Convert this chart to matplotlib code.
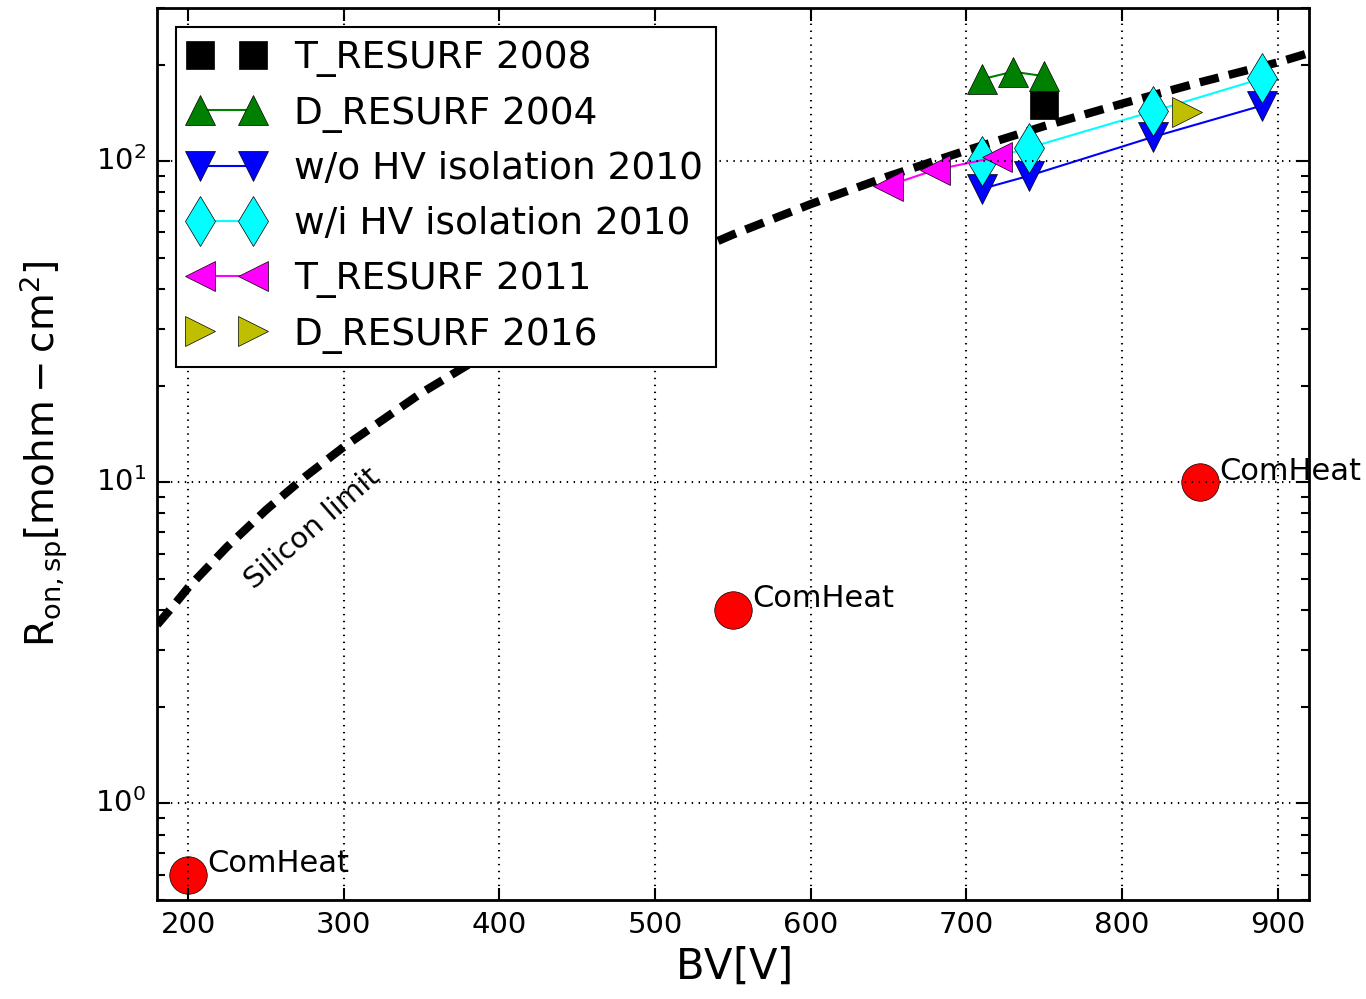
import matplotlib
matplotlib.use("Agg")
import matplotlib.pyplot as plt

plt.style.use('classic')
plt.rcParams['mathtext.fontset'] = 'dejavusans'
plt.rcParams['font.family'] = 'DejaVu Sans'

# silicon limit
si_bv = [180, 190, 200, 225, 250, 275, 300, 350, 400, 450, 500, 550,
         600, 650, 700, 750, 800, 850, 900, 920]
si_ron = [3.6, 4.1, 4.7, 6.3, 8.2, 10.4, 12.9, 19.0, 26.6, 35.7, 46.5, 59.1,
          73.5, 89.8, 108, 128.6, 151, 176, 203, 217]

# published devices
t2008_bv = [750]
t2008_ron = [150]
d2004_bv = [710, 730, 750]
d2004_ron = [180, 190, 184]
wo_bv = [710, 740, 820, 890]
wo_ron = [82, 90, 119, 149]
wi_bv = [710, 740, 820, 890]
wi_ron = [100, 110, 143, 181]
t2011_bv = [650, 680, 720]
t2011_ron = [84, 94, 103]
d2016_bv = [842]
d2016_ron = [142]

# ComHeat points
com_bv = [200, 550, 850]
com_ron = [0.6, 4.0, 10.0]

fig = plt.figure(figsize=(13.66, 9.99), dpi=100, facecolor='white')
ax = fig.add_axes([0.115, 0.099, 0.843, 0.893])

ax.plot(si_bv, si_ron, color='black', lw=6, dashes=(14, 7.5))

ms = 21
ax.plot(t2008_bv, t2008_ron, 's', color='black', ms=ms * 0.95, label='T_RESURF 2008')
ax.plot(d2004_bv, d2004_ron, '^-', color='green', ms=ms, lw=1.5, label='D_RESURF 2004')
ax.plot(wo_bv, wo_ron, 'v-', color='blue', ms=ms, lw=1.5, label='w/o HV isolation 2010')
ax.plot(wi_bv, wi_ron, 'd-', color='cyan', ms=ms * 1.2, lw=1.5, label='w/i HV isolation 2010')
ax.plot(t2011_bv, t2011_ron, '<-', color='magenta', ms=ms, lw=1.5, label='T_RESURF 2011')
ax.plot(d2016_bv, d2016_ron, '>', color='y', ms=ms, label='D_RESURF 2016')

ax.plot(com_bv, com_ron, 'o', color='red', ms=27)
for x, y in zip(com_bv, com_ron):
    ax.annotate('ComHeat', (x, y), xytext=(14, 8), textcoords='offset points',
                fontsize=22, va='center', annotation_clip=False)

ax.text(280, 7.2, 'Silicon limit', rotation=41, fontsize=21, ha='center', va='center')

ax.set_yscale('log')
ax.set_xlim(180, 920)
ax.set_ylim(0.5, 300)
ax.set_xticks([200, 300, 400, 500, 600, 700, 800, 900])

ax.grid(True, color='black', linestyle=(0, (1, 4)), linewidth=1.5)
ax.tick_params(which='major', length=9, width=1.5, labelsize=21, pad=8)
ax.tick_params(which='minor', length=5.5, width=1.5)
for s in ax.spines.values():
    s.set_linewidth(2)

ax.set_xlabel(r'$\mathrm{BV[V]}$', fontsize=30)
ax.set_ylabel(r'$\mathrm{R_{on,sp}\left[mohm-cm^2\right]}$', fontsize=28, labelpad=18)

leg = ax.legend(loc='upper left', numpoints=2, fontsize=27, borderaxespad=0.5,
                handlelength=2.0, handletextpad=0.8, labelspacing=0.5, borderpad=0.35)
leg.get_frame().set_linewidth(1.5)

fig.savefig('out.png', dpi=100, facecolor='white')
